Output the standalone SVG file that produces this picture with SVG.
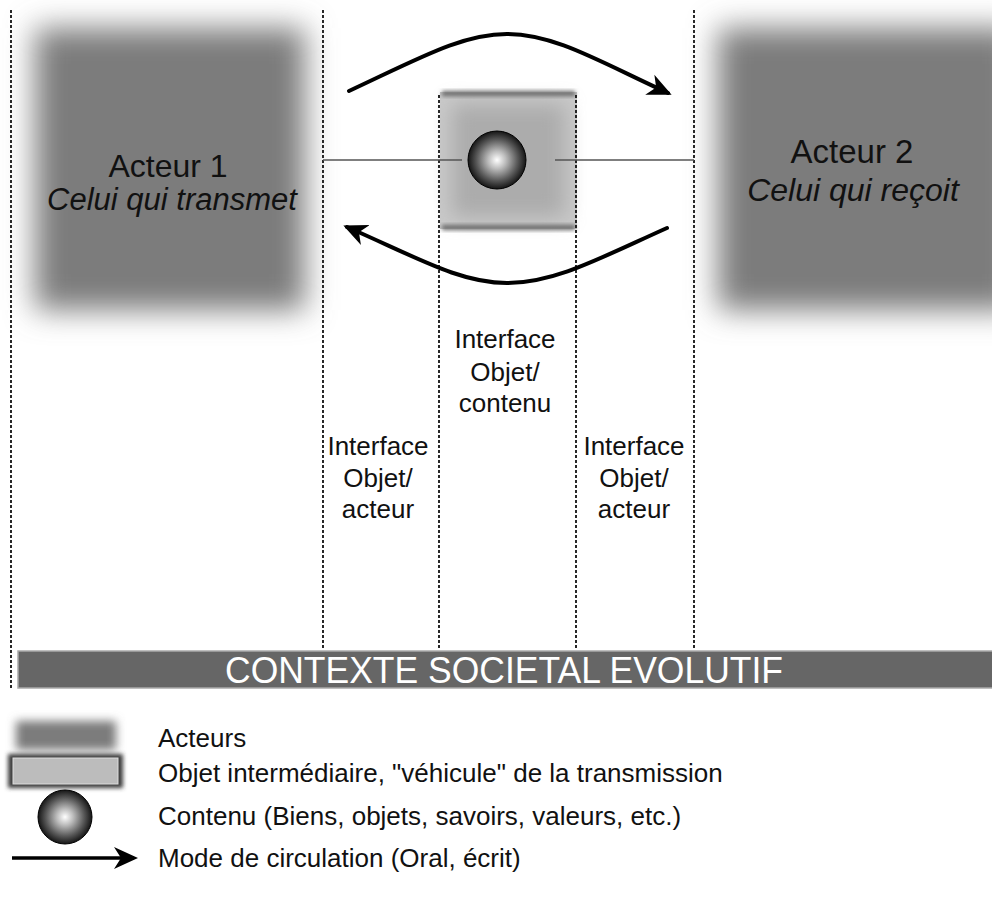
<svg xmlns="http://www.w3.org/2000/svg" width="992" height="922" viewBox="0 0 992 922">
<defs>
<style>
.dash{stroke:#111;stroke-width:1.8;stroke-dasharray:3 2;fill:none}
.t{font-family:"Liberation Sans",Arial,sans-serif;fill:#111}
.ti{font-family:"Liberation Sans",Arial,sans-serif;fill:#111;font-style:italic}
.flow{fill:none;stroke:#000;stroke-width:4;stroke-linecap:round;marker-end:url(#head)}
.hline{stroke:#555;stroke-width:1.5}
</style>
<filter id="blurA" x="-30%" y="-30%" width="160%" height="160%"><feGaussianBlur stdDeviation="15"/></filter>
<filter id="blurB" x="-20%" y="-20%" width="140%" height="140%"><feGaussianBlur stdDeviation="10"/></filter>
<filter id="blurS" x="-20%" y="-50%" width="140%" height="200%"><feGaussianBlur stdDeviation="2"/></filter>
<filter id="blurL" x="-30%" y="-60%" width="160%" height="220%"><feGaussianBlur stdDeviation="5"/></filter>
<radialGradient id="sphere" cx="50%" cy="50%" r="50%">
<stop offset="0" stop-color="#ffffff"/>
<stop offset="0.3" stop-color="#bdbdbd"/>
<stop offset="0.7" stop-color="#5a5a5a"/>
<stop offset="1" stop-color="#151515"/>
</radialGradient>
<marker id="head" markerUnits="userSpaceOnUse" markerWidth="24" markerHeight="24" viewBox="0 0 12 12" refX="10" refY="6" orient="auto">
<path d="M0,0.5 L12,6 L0,11.5 L3.5,6 Z" fill="#000"/>
</marker>
</defs>

<g id="actor1">
<rect x="35" y="28" width="270" height="282" fill="#7c7c7c" filter="url(#blurA)"/>
<text class="t" x="168" y="177" font-size="32" text-anchor="middle">Acteur 1</text>
<text class="ti" x="172" y="210" font-size="31" text-anchor="middle">Celui qui transmet</text>
</g>

<g id="actor2">
<rect x="718" y="28" width="300" height="282" fill="#7c7c7c" filter="url(#blurA)"/>
<text class="t" x="852" y="163" font-size="33" text-anchor="middle">Acteur 2</text>
<text class="ti" x="853" y="201" font-size="32" text-anchor="middle">Celui qui reçoit</text>
</g>

<g id="object">
<rect x="440" y="92" width="137" height="137" fill="#c9c9c9"/>
<rect x="452" y="104" width="113" height="113" fill="#acacac" filter="url(#blurB)"/>
<rect x="442" y="91" width="133" height="5" fill="#666" filter="url(#blurS)"/>
<rect x="442" y="225" width="133" height="5" fill="#666" filter="url(#blurS)"/>
</g>

<g id="guides">
<line class="dash" x1="11" y1="10" x2="11" y2="690"/>
<line class="dash" x1="323" y1="10" x2="323" y2="648"/>
<line class="dash" x1="439" y1="95" x2="439" y2="648"/>
<line class="dash" x1="576" y1="95" x2="576" y2="648"/>
<line class="dash" x1="694" y1="10" x2="694" y2="648"/>
</g>

<g id="connectors">
<line class="hline" x1="323" y1="160" x2="462" y2="160"/>
<line class="hline" x1="555" y1="160" x2="694" y2="160"/>
<path class="flow" d="M349,91 C420,58 462,34 507,34 C555,34 600,62 668,93"/>
<path class="flow" d="M667,228 C600,258 555,283 507,283 C460,283 418,258 347,227"/>
</g>

<g id="content">
<circle cx="497" cy="160" r="29" fill="url(#sphere)" stroke="#000" stroke-width="1"/>
</g>

<g id="labels">
<text class="t" font-size="26" text-anchor="middle"><tspan x="505" y="348">Interface</tspan><tspan x="505" y="381">Objet/</tspan><tspan x="505" y="412">contenu</tspan></text>
<text class="t" font-size="26" text-anchor="middle"><tspan x="378" y="455">Interface</tspan><tspan x="378" y="487">Objet/</tspan><tspan x="378" y="518">acteur</tspan></text>
<text class="t" font-size="26" text-anchor="middle"><tspan x="634" y="455">Interface</tspan><tspan x="634" y="487">Objet/</tspan><tspan x="634" y="518">acteur</tspan></text>
</g>

<g id="context">
<rect x="18" y="651" width="980" height="37" fill="#666" stroke="#aaa" stroke-width="1.5"/>
<text x="504" y="683" font-family="'Liberation Sans',Arial,sans-serif" font-size="36" fill="#fff" text-anchor="middle" textLength="558" lengthAdjust="spacingAndGlyphs">CONTEXTE SOCIETAL EVOLUTIF</text>
</g>

<g id="legend">
<rect x="16" y="721" width="100" height="29" fill="#7c7c7c" filter="url(#blurL)"/>
<text class="t" x="158" y="747" font-size="26">Acteurs</text>
<rect x="8" y="754" width="115" height="34" fill="#3c3c3c" filter="url(#blurS)"/>
<rect x="13" y="758" width="105" height="26" fill="#bcbcbc" stroke="#ddd" stroke-width="1"/>
<text class="t" x="158" y="782" font-size="26">Objet intermédiaire, "véhicule" de la transmission</text>
<circle cx="65" cy="817" r="27" fill="url(#sphere)" stroke="#000" stroke-width="1"/>
<text class="t" x="158" y="825" font-size="26">Contenu (Biens, objets, savoirs, valeurs, etc.)</text>
<line x1="12" y1="858" x2="134" y2="858" stroke="#000" stroke-width="3.5" marker-end="url(#head)"/>
<text class="t" x="158" y="867" font-size="26">Mode de circulation (Oral, écrit)</text>
</g>
</svg>
